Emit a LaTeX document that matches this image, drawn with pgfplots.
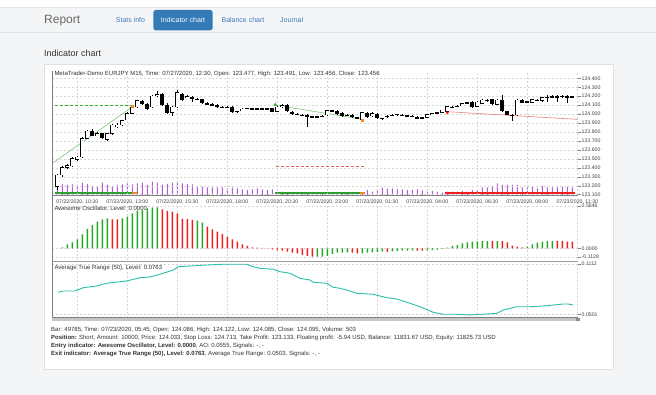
\documentclass[border=0pt]{standalone}
\usepackage{pgfplots}
\pgfplotsset{compat=1.18}
\usepackage{pgfplotstable}
\usepackage{fontspec}
\setmainfont{Liberation Sans}
\definecolor{pagebg}{HTML}{F4F5F7}
\definecolor{linegray}{HTML}{E2E4E8}
\definecolor{panelborder}{HTML}{E0E0E0}
\definecolor{reportgray}{HTML}{666666}
\definecolor{linkblue}{HTML}{3A7DB8}
\definecolor{btnblue}{HTML}{337AB7}
\definecolor{textdark}{HTML}{333333}
\definecolor{textgray}{HTML}{444444}
\definecolor{gridgray}{HTML}{D6D6D6}
\definecolor{axisgray}{HTML}{808080}
\definecolor{volcol}{HTML}{B45CD6}
\definecolor{aogreen}{HTML}{22A822}
\definecolor{aored}{HTML}{F21B1B}
\definecolor{atrcol}{HTML}{2BBFA8}
\definecolor{trendgreen}{HTML}{2FB52F}
\definecolor{trendgreenl}{HTML}{7CC47C}
\definecolor{tpred}{HTML}{E06060}
\definecolor{lred}{HTML}{E88080}
\definecolor{posgreen}{HTML}{2E9E2E}
\definecolor{posorange}{HTML}{F08A1C}
\definecolor{posred}{HTML}{F01E1E}
\newcommand{\ticksz}{\fontsize{5.2}{6}\selectfont}
\newcommand{\chartsz}{\fontsize{6}{7}\selectfont}

\pgfplotstableread{
k o h l c
0 123.19 123.33 123.15 123.32
1 123.32 123.42 123.30 123.405
2 123.405 123.44 123.39 123.43
3 123.42 123.52 123.41 123.505
4 123.49 123.53 123.48 123.52
5 123.52 123.74 123.51 123.73
6 123.73 123.82 123.72 123.81
8 123.76 123.80 123.75 123.785
10 123.72 123.79 123.70 123.785
11 123.78 123.89 123.77 123.88
12 123.86 123.90 123.85 123.88
13 123.88 123.94 123.87 123.93
14 123.935 124.02 123.93 124.01
15 124.01 124.09 124.00 124.08
16 124.08 124.16 124.07 124.15
19 124.08 124.21 124.07 124.20
20 124.20 124.26 124.19 124.22
23 124.02 124.09 123.98 124.08
24 124.08 124.27 124.07 124.245
26 124.185 124.21 124.18 124.20
37 124.035 124.07 124.03 124.06
44 124.03 124.09 124.02 124.08
45 124.08 124.11 124.07 124.10
54 123.99 124.05 123.98 124.04
61 123.941 124.03 123.93 124.016
63 123.978 124.02 123.97 124.008
74 123.963 124.00 123.955 123.996
75 123.99 124.01 123.985 124.008
77 124.016 124.05 124.01 124.045
78 124.027 124.09 124.02 124.083
81 124.094 124.13 124.09 124.12
84 124.083 124.15 124.075 124.138
85 124.12 124.17 124.11 124.157
88 124.109 124.17 124.10 124.157
92 123.989 124.165 123.98 124.157
95 124.131 124.17 124.12 124.165
97 124.15 124.19 124.14 124.187
}\whitec

\pgfplotstableread{
k o h l c
7 123.81 123.83 123.75 123.76
9 123.785 123.79 123.72 123.73
17 124.15 124.16 124.10 124.11
18 124.11 124.13 124.05 124.06
21 124.22 124.24 124.09 124.10
22 124.10 124.12 124.00 124.01
25 124.23 124.24 124.15 124.16
27 124.19 124.20 124.14 124.175
28 124.17 124.18 124.16 124.165
29 124.165 124.17 124.11 124.12
30 124.12 124.13 124.11 124.115
31 124.11 124.12 124.10 124.105
32 124.10 124.11 124.07 124.08
33 124.08 124.09 124.07 124.075
34 124.078 124.09 124.07 124.078
35 124.08 124.09 124.01 124.02
36 124.03 124.04 124.01 124.03
38 124.064 124.07 124.06 124.064
39 124.064 124.07 124.05 124.06
40 124.06 124.07 124.05 124.06
41 124.06 124.07 124.05 124.06
42 124.06 124.07 124.05 124.06
43 124.064 124.07 124.02 124.03
46 124.10 124.11 124.02 124.03
47 124.03 124.04 123.99 124.00
48 124.00 124.01 123.99 124.00
49 123.99 124.00 123.98 123.99
50 123.99 124.00 123.86 123.97
51 123.97 123.98 123.96 123.97
52 123.97 123.98 123.96 123.97
53 123.98 123.99 123.97 123.98
55 124.04 124.05 124.03 124.04
56 124.04 124.05 123.99 124.00
57 124.008 124.02 123.97 123.978
58 123.99 124.00 123.98 123.99
59 123.99 124.00 123.955 123.963
60 123.96 123.97 123.95 123.96
62 124.008 124.02 123.955 123.963
64 124.001 124.01 123.94 123.952
65 123.952 123.96 123.93 123.952
66 123.978 123.99 123.96 123.978
67 123.989 124.00 123.98 123.989
68 123.996 124.00 123.98 123.996
69 123.989 124.00 123.98 123.989
70 123.985 123.99 123.97 123.985
71 123.978 123.99 123.97 123.978
72 123.971 123.98 123.94 123.945
73 123.96 123.97 123.95 123.96
76 124.016 124.02 124.01 124.016
79 124.075 124.09 124.07 124.075
80 124.09 124.10 124.08 124.09
82 124.127 124.14 124.12 124.127
83 124.138 124.15 124.07 124.075
86 124.157 124.17 124.14 124.157
87 124.165 124.17 124.10 124.109
89 124.157 124.22 124.03 124.038
90 124.038 124.04 123.99 123.996
91 123.989 124.00 123.926 123.989
93 124.157 124.165 124.12 124.127
94 124.138 124.15 124.12 124.138
96 124.157 124.165 124.15 124.157
98 124.187 124.22 124.138 124.187
99 124.194 124.21 124.18 124.194
100 124.194 124.22 124.138 124.194
101 124.202 124.21 124.18 124.202
102 124.194 124.21 124.127 124.194
103 124.194 124.20 124.18 124.194
}\darkc

\pgfplotstableread{
k v
0 900
1 1070
2 1000
3 1070
4 1000
5 1230
6 1100
7 900
8 830
9 1230
10 1000
11 900
12 1000
13 1070
14 1170
15 1070
16 1170
17 1230
18 1000
19 1330
20 1230
21 1000
22 1100
23 1230
24 1400
25 1170
26 1100
27 1070
28 830
29 830
30 770
31 770
32 770
33 770
34 670
35 730
36 670
37 570
38 500
39 570
40 670
41 570
42 500
43 570
44 230
45 330
46 250
47 270
48 250
49 270
50 250
51 270
52 250
53 250
54 270
55 250
56 270
57 250
58 270
59 250
60 250
61 200
62 500
63 330
64 570
65 730
66 670
67 670
68 570
69 570
70 500
71 500
72 570
73 430
74 330
75 400
76 330
77 230
78 330
79 330
80 330
81 400
82 330
83 500
84 570
85 770
86 770
87 900
88 1170
89 1000
90 1000
91 1000
92 1000
93 770
94 770
95 830
96 670
97 900
98 770
99 770
100 770
101 830
102 830
103 770
}\vol

\pgfplotsset{
  panel/.style={
    anchor=south west, scale only axis, width=525.7pt,
    xmin=-1, xmax=104.14,
    axis line style={draw=none},
    ytick pos=right, tick align=outside, major tick length=2.5pt,
    xtick={4,14,24,34,44,54,64,74,84,94,104},
    xtick style={draw=none},
    ytick style={draw=axisgray, line width=0.4pt},
    grid=major,
    major grid style={draw=gridgray, dash pattern=on 2pt off 2pt, line width=0.4pt},
    yticklabel style={font=\ticksz, text=textgray, anchor=west, inner sep=0pt, xshift=1pt},
    xticklabel style={font=\ticksz, text=textgray, anchor=north, inner sep=0pt, yshift=-1.6pt},
  },
  candle/.style={draw=none, mark=none, error bars/.cd, y dir=both, y explicit, error mark=none},
}

\begin{document}
\begin{tikzpicture}
\begin{scope}[x=1pt,y=-1pt]
\path[use as bounding box] (0,0) rectangle (656,395);
\fill[pagebg] (0,0) rectangle (656,395);
\fill[white] (0,0) rectangle (656,7.5);
\draw[linegray, line width=0.6pt] (0,7.5) -- (656,7.5);
\draw[linegray, line width=0.6pt] (0,32.5) -- (656,32.5);
\node[anchor=base west, inner sep=0pt, font=\fontsize{12}{14}\selectfont, text=reportgray] at (44,24) {Report};
\node[anchor=base, inner sep=0pt, font=\fontsize{7}{8}\selectfont, text=linkblue] at (130.5,22.8) {Stats info};
\fill[btnblue, rounded corners=2.5pt] (153.3,10) rectangle (212.7,30.3);
\node[anchor=base, inner sep=0pt, font=\fontsize{7}{8}\selectfont, text=white] at (183,22.8) {Indicator chart};
\node[anchor=base, inner sep=0pt, font=\fontsize{7}{8}\selectfont, text=linkblue] at (243,22.8) {Balance chart};
\node[anchor=base, inner sep=0pt, font=\fontsize{7}{8}\selectfont, text=linkblue] at (291.7,22.8) {Journal};
\node[anchor=base west, inner sep=0pt, font=\fontsize{9}{11}\selectfont, text=textdark] at (44,56.3) {Indicator chart};
\filldraw[fill=white, draw=panelborder, line width=0.6pt] (44,64) rectangle (613.5,369.5);
\end{scope}

% volume
\begin{axis}[at={(52.3pt,-195pt)}, anchor=south west, scale only axis, width=525.7pt, height=124pt,
  xmin=-1, xmax=104.14, ymin=0, ymax=12400, hide axis]
\addplot[ybar, bar width=1pt, bar shift=0pt, fill=volcol, draw=none] table[x=k, y=v] \vol;
\addplot[posgreen, line width=2pt] coordinates {(-0.5,170)(14.9,170)};
\addplot[posorange, line width=2pt] coordinates {(14.9,170)(15.9,170)};
\addplot[posgreen, line width=2pt] coordinates {(43.5,170)(60.5,170)};
\addplot[posorange, line width=2pt] coordinates {(60.5,170)(61.5,170)};
\addplot[posred, line width=2pt] coordinates {(77.5,170)(103.5,170)};
\end{axis}

% price
\begin{axis}[panel, at={(52.3pt,-195pt)}, height=124pt,
  ymin=123.0961, ymax=124.4816,
  ytick={123.1,123.2,123.3,123.4,123.5,123.6,123.7,123.8,123.9,124.0,124.1,124.2,124.3,124.4},
  yticklabels={123.100,123.200,123.300,123.400,123.500,123.600,123.700,123.800,123.900,124.000,124.100,124.200,124.300,124.400},
  xticklabels={{07/22/2020, 10:30},{07/22/2020, 13:00},{07/22/2020, 15:30},{07/22/2020, 18:00},{07/22/2020, 20:30},{07/22/2020, 23:00},{07/23/2020, 01:30},{07/23/2020, 04:00},{07/23/2020, 06:30},{07/23/2020, 09:00},{07/23/2020, 11:30}},
]
\addplot[trendgreen, dash pattern=on 3pt off 2pt, line width=0.7pt] coordinates {(-0.5,124.094)(15.2,124.094)};
\addplot[trendgreenl, line width=0.6pt] coordinates {(-1,123.45)(15.1,124.085)};
\addplot[trendgreenl, line width=0.6pt] coordinates {(43.5,124.101)(61.2,123.941)};
\addplot[tpred, dash pattern=on 3pt off 2pt, line width=0.6pt] coordinates {(43.7,123.414)(61.5,123.414)};
\addplot[lred, line width=0.6pt] coordinates {(78,124.027)(104.14,123.941)};
% wicks
\addplot[candle, error bar style={draw=black, line width=0.5pt}]
  table[x=k, y expr={(\thisrow{h}+\thisrow{l})/2}, y error expr={(\thisrow{h}-\thisrow{l})/2}] \whitec;
\addplot[candle, error bar style={draw=black, line width=0.5pt}]
  table[x=k, y expr={(\thisrow{h}+\thisrow{l})/2}, y error expr={(\thisrow{h}-\thisrow{l})/2}] \darkc;
% dark bodies
\addplot[candle, error bar style={draw=black, line width=4.2pt}]
  table[x=k, y expr={(\thisrow{o}+\thisrow{c})/2}, y error expr={max(abs(\thisrow{c}-\thisrow{o})/2,0.0052)}] \darkc;
% white bodies
\addplot[candle, error bar style={draw=black, line width=4.2pt}]
  table[x=k, y expr={(\thisrow{o}+\thisrow{c})/2}, y error expr={abs(\thisrow{c}-\thisrow{o})/2+0.0033}] \whitec;
\addplot[candle, error bar style={draw=white, line width=3.0pt}]
  table[x=k, y expr={(\thisrow{o}+\thisrow{c})/2}, y error expr={max(abs(\thisrow{c}-\thisrow{o})/2-0.0033,0.0005)}] \whitec;
% markers
\addplot[only marks, mark=triangle*, mark size=1.6pt, color=aogreen] coordinates {(43.6,124.105)};
\addplot[only marks, mark=square*, mark size=0.9pt, color=posorange] coordinates {(15,124.09)(61,123.935)};
\addplot[only marks, mark=triangle*, mark options={rotate=180}, mark size=1.6pt, color=aored] coordinates {(78,124.016)};
\end{axis}

% Awesome Oscillator
\begin{axis}[panel, at={(52.3pt,-260.5pt)}, height=57.5pt,
  ymin=-0.1629, ymax=0.6048,
  ytick={-0.1128,0,0.5646}, yticklabels={-0.1128,0.0000,0.5646},
  xticklabels={},
]
\addplot[ybar, bar width=1.4pt, bar shift=0pt, fill=aogreen, draw=none] coordinates {
(1,0.013)(2,0.053)(3,0.08)(4,0.12)(5,0.187)(6,0.257)(7,0.311)(8,0.356)(9,0.387)(10,0.40)
(13,0.40)(14,0.422)(15,0.467)(16,0.502)(17,0.511)(18,0.534)(19,0.542)(20,0.547)(28,0.369)(29,0.342)
(52,-0.112)(53,-0.11)(54,-0.10)(55,-0.075)(56,-0.058)(57,-0.058)(58,-0.054)
(61,-0.067)(62,-0.058)(63,-0.054)(64,-0.049)(65,-0.045)(67,-0.040)(68,-0.036)(69,-0.032)(70,-0.032)(71,-0.027)
(74,-0.027)(75,-0.023)(76,-0.018)(77,-0.009)
(78,0.009)(79,0.031)(80,0.044)(81,0.067)(82,0.08)(83,0.089)(84,0.093)(85,0.095)(86,0.095)(88,0.097)
(94,0.022)(95,0.053)(96,0.076)(97,0.089)(98,0.097)(99,0.097)};
\addplot[ybar, bar width=1.4pt, bar shift=0pt, fill=aored, draw=none] coordinates {
(11,0.387)(12,0.387)(21,0.52)(22,0.50)(23,0.489)(24,0.467)(25,0.391)(26,0.391)(27,0.378)
(30,0.289)(31,0.253)(32,0.222)(33,0.191)(34,0.156)(35,0.12)(36,0.089)(37,0.053)(38,0.031)(39,0.012)
(40,0.009)(41,0.006)(42,0.004)
(43,-0.015)(44,-0.025)(45,-0.03)(46,-0.045)(47,-0.058)(48,-0.067)(49,-0.089)(50,-0.102)(51,-0.111)
(59,-0.058)(60,-0.067)(66,-0.049)(72,-0.032)(73,-0.032)
(87,0.097)(89,0.095)(90,0.08)(91,0.036)(92,0.022)(93,0.013)(100,0.1)(101,0.097)(102,0.09)(103,0.089)};
\end{axis}

% ATR
\begin{axis}[panel, at={(52.3pt,-318pt)}, height=57pt,
  ymin=0.0456, ymax=0.11486,
  ytick={0.0501,0.1112}, yticklabels={0.0501,0.1112},
  xticklabels={},
]
\addplot[atrcol, line width=0.9pt] coordinates {
(0.2,0.0768)(1.2,0.0784)(3.54,0.0784)(5.2,0.0824)(7.88,0.0845)(9.88,0.0878)(12.54,0.0897)(13.88,0.0906)
(16.54,0.0946)(18.54,0.0954)(20.54,0.0987)(23.2,0.1039)(24.2,0.1079)(26.54,0.1088)(29.88,0.1100)
(33.2,0.1109)(37.88,0.1109)(39.2,0.1079)(40.54,0.1060)(43.2,0.1048)(44.54,0.1019)(46.54,0.0999)
(48.54,0.0938)(50.54,0.0918)(51.2,0.0890)(53.88,0.0878)(55.2,0.0829)(56.54,0.0817)(58.54,0.0784)
(59.88,0.0756)(63.2,0.0744)(65.88,0.0703)(67.88,0.0687)(70.54,0.0635)(72.54,0.0593)(75.2,0.0525)
(77.2,0.0501)(79.88,0.0501)(82.54,0.0493)(85.88,0.0505)(87.88,0.0513)(89.2,0.0553)(91.88,0.0593)
(94.54,0.0593)(97.88,0.0605)(101.2,0.0626)(102.2,0.0626)(103.2,0.0614)};
\end{axis}

\begin{scope}[x=1pt,y=-1pt]
\draw[axisgray, line width=0.7pt] (52.3,71) -- (52.3,318);
\draw[axisgray, line width=0.8pt] (52.3,195) -- (578,195);
\draw[axisgray!80, line width=0.9pt] (52.3,261) -- (578,261);
\draw[axisgray, line width=0.6pt] (52.3,317) -- (578,317);
\fill[black!22] (52.3,318) rectangle (580,321.5);
\fill[black!45] (576,318) rectangle (580,321.5);
\node[anchor=base west, inner sep=0pt, font=\chartsz, text=textdark] at (54.3,76)
  {MetaTrader-Demo EURJPY M15, Time: 07/27/2020, 12:30, Open: 123.477, High: 123.491, Low: 123.456, Close: 123.456};
\node[anchor=base west, inner sep=0pt, font=\chartsz, text=textdark] at (54.3,211) {Awesome Oscillator, Level: 0.0000};
\node[anchor=base west, inner sep=0pt, font=\chartsz, text=textdark] at (54.3,269.3) {Average True Range (50), Level: 0.0763};
\node[anchor=base west, inner sep=0pt, font=\chartsz, text=textdark] at (51,331)
  {Bar: 49785, Time: 07/23/2020, 05:45, Open: 124.086, High: 124.122, Low: 124.085, Close: 124.095, Volume: 503};
\node[anchor=base west, inner sep=0pt, font=\chartsz, text=textdark] at (51,339.3)
  {\textbf{Position:} Short, Amount: 10000, Price: 124.033, Stop Loss: 124.713, Take Profit: 123.133, Floating profit: -5.94 USD, Balance: 11831.67 USD, Equity: 11825.73 USD};
\node[anchor=base west, inner sep=0pt, font=\chartsz, text=textdark] at (51,347.6)
  {\textbf{Entry indicator: Awesome Oscillator, Level: 0.0000}, AO: 0.0555, Signals: -, -};
\node[anchor=base west, inner sep=0pt, font=\chartsz, text=textdark] at (51,355.9)
  {\textbf{Exit indicator: Average True Range (50), Level: 0.0763}, Average True Range: 0.0503, Signals: -, -};
\end{scope}
\end{tikzpicture}
\end{document}
